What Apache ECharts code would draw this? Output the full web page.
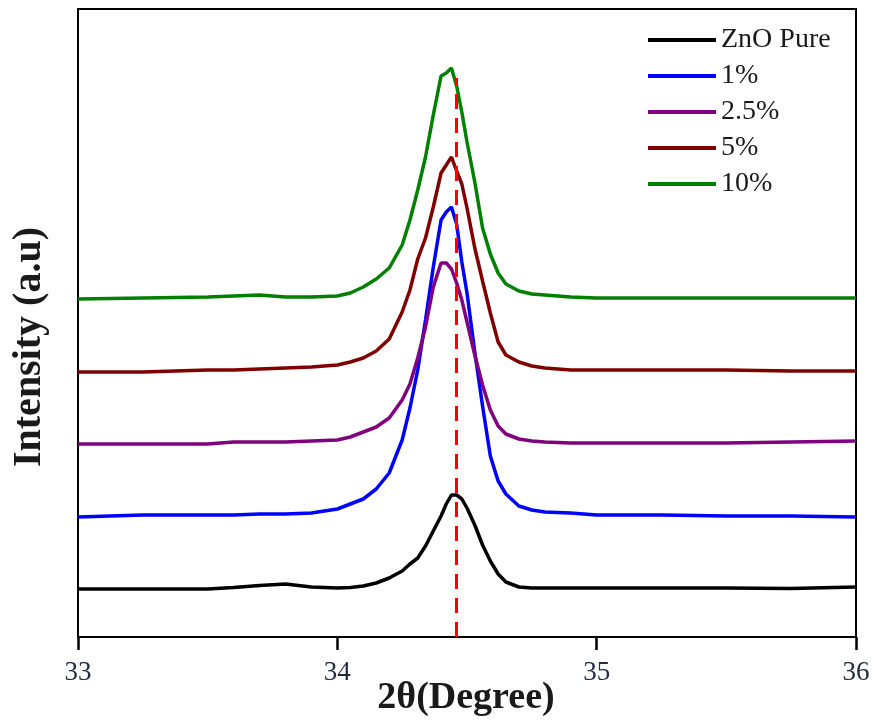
<!DOCTYPE html>
<html>
<head>
<meta charset="utf-8">
<script src="https://cdn.jsdelivr.net/npm/echarts@6/dist/echarts.min.js"></script>
<style>
html,body{margin:0;padding:0;background:#fff;}
#c{width:872px;height:720px;}
</style>
</head>
<body>
<div id="c"></div>
<script>
// 2theta sample positions (degree)
var twoTheta = [33.00, 33.25, 33.50, 33.60, 33.70, 33.80, 33.90, 34.00, 34.05, 34.10, 34.15, 34.20, 34.25, 34.28, 34.31, 34.34, 34.37, 34.40, 34.42, 34.44, 34.46, 34.48, 34.50, 34.53, 34.56, 34.59, 34.62, 34.65, 34.70, 34.75, 34.80, 34.90, 35.00, 35.25, 35.50, 35.75, 36.00];
// intensities (a.u., stacked offsets as drawn)
var znoPure = [48, 48, 48, 49.5, 51.5, 53, 50, 49, 49.5, 51, 54, 59, 66, 73, 79, 91, 106, 121, 133, 142, 142, 138, 129, 112, 92, 76, 63, 55, 50, 49, 49, 49, 49, 49, 49, 48.5, 50];
var pct1 = [120, 122, 122, 122, 123, 123, 124, 128, 133, 138, 148, 164, 197, 229, 267, 317, 370, 417, 425, 430, 413, 375, 344, 285, 231, 181, 156, 143, 131, 127, 125, 124, 122, 122, 121, 121, 120];
var pct25 = [193, 193, 193, 195, 195, 195, 196, 197, 200, 205, 210, 219, 237, 253, 279, 310, 350, 374, 374, 368, 354, 337, 315, 282, 252, 227, 211, 203, 198, 196, 195, 194, 194, 194, 194, 195, 196];
var pct5 = [265, 265, 267, 267, 268, 269, 270, 272, 275, 279, 286, 298, 325, 347, 378, 399, 430, 464, 472, 480, 466, 453, 429, 389, 356, 324, 295, 282, 275, 271, 269, 267, 267, 267, 267, 266, 266];
var pct10 = [338, 339, 340, 341, 342, 340, 340, 341, 344, 350, 358, 369, 392, 417, 447, 480, 522, 561, 564, 569, 551, 525, 495, 455, 409, 383, 364, 353, 346, 343, 342, 340, 339, 339, 339, 339, 339];
var seriesNames = ['ZnO Pure', '1%', '2.5%', '5%', '10%'];
var seriesColors = ['#000000', '#0000ff', '#800080', '#800000', '#008000'];
var refPeak = 34.46;
var refTop = 559;
var xTicks = [33, 34, 35, 36];

var allSeries = [znoPure, pct1, pct25, pct5, pct10];
function pairs(ys){ return twoTheta.map(function(x,i){ return [x, ys[i]]; }); }

var chart = echarts.init(document.getElementById('c'), null, {renderer:'canvas'});
var series = allSeries.map(function(ys, k){
  return {
    name: seriesNames[k], type: 'line', data: pairs(ys),
    symbol: 'none', showSymbol: false,
    lineStyle: {color: seriesColors[k], width: 3.5},
    itemStyle: {color: seriesColors[k]},
    z: 2 + k
  };
});
series.push({
  type: 'line', data: [], silent: true,
  markLine: {
    symbol: ['none','none'], silent: true, z: 20,
    label: {show: false},
    lineStyle: {color: '#ff0000', width: 3, type: [15, 9]},
    data: [[{coord: [refPeak, 0]}, {coord: [refPeak, refTop]}]]
  }
});

chart.setOption({
  animation: false,
  backgroundColor: '#fff',
  grid: {left: 78, top: 9, right: 16, bottom: 83, show: true, borderColor: '#000', borderWidth: 2,
    backgroundColor: 'transparent', containLabel: false, outerBoundsMode: 'none'},
  legend: {
    data: seriesNames, orient: 'vertical', left: 643, top: 21,
    icon: 'rect', itemWidth: 68, itemHeight: 4, itemGap: 8,
    textStyle: {fontFamily: 'Liberation Serif', fontSize: 28, color: '#1a1a1a', lineHeight: 28}
  },
  graphic: [{
    type: 'text', x: 30, y: 347, rotation: Math.PI / 2,
    style: {text: 'Intensity (a.u)', font: 'bold 40px "Liberation Serif"', fill: '#1a1a1a', align: 'center', verticalAlign: 'middle'}
  }, {
    type: 'text', x: 466, y: 698,
    style: {text: '2θ(Degree)', font: 'bold 38px "Liberation Serif"', fill: '#1a1a1a', align: 'center', verticalAlign: 'middle'}
  }],
  xAxis: {
    type: 'value', min: 33, max: 36, interval: 1,
    axisLine: {show: true, onZero: false, lineStyle: {color: '#000', width: 2}},
    axisTick: {show: true, inside: false, length: 13, lineStyle: {color: '#000', width: 2.5}},
    axisLabel: {fontFamily: 'Liberation Serif', fontSize: 27, color: '#1f2a44', margin: 22,
      formatter: function(v){ return xTicks.indexOf(v) >= 0 ? String(v) : ''; }},
    splitLine: {show: false}
  },
  yAxis: {
    type: 'value', min: 0, max: 628,
    axisLine: {show: true, lineStyle: {color: '#000', width: 2}},
    axisTick: {show: false}, axisLabel: {show: false}, splitLine: {show: false}
  },
  series: series
});
</script>
</body>
</html>
